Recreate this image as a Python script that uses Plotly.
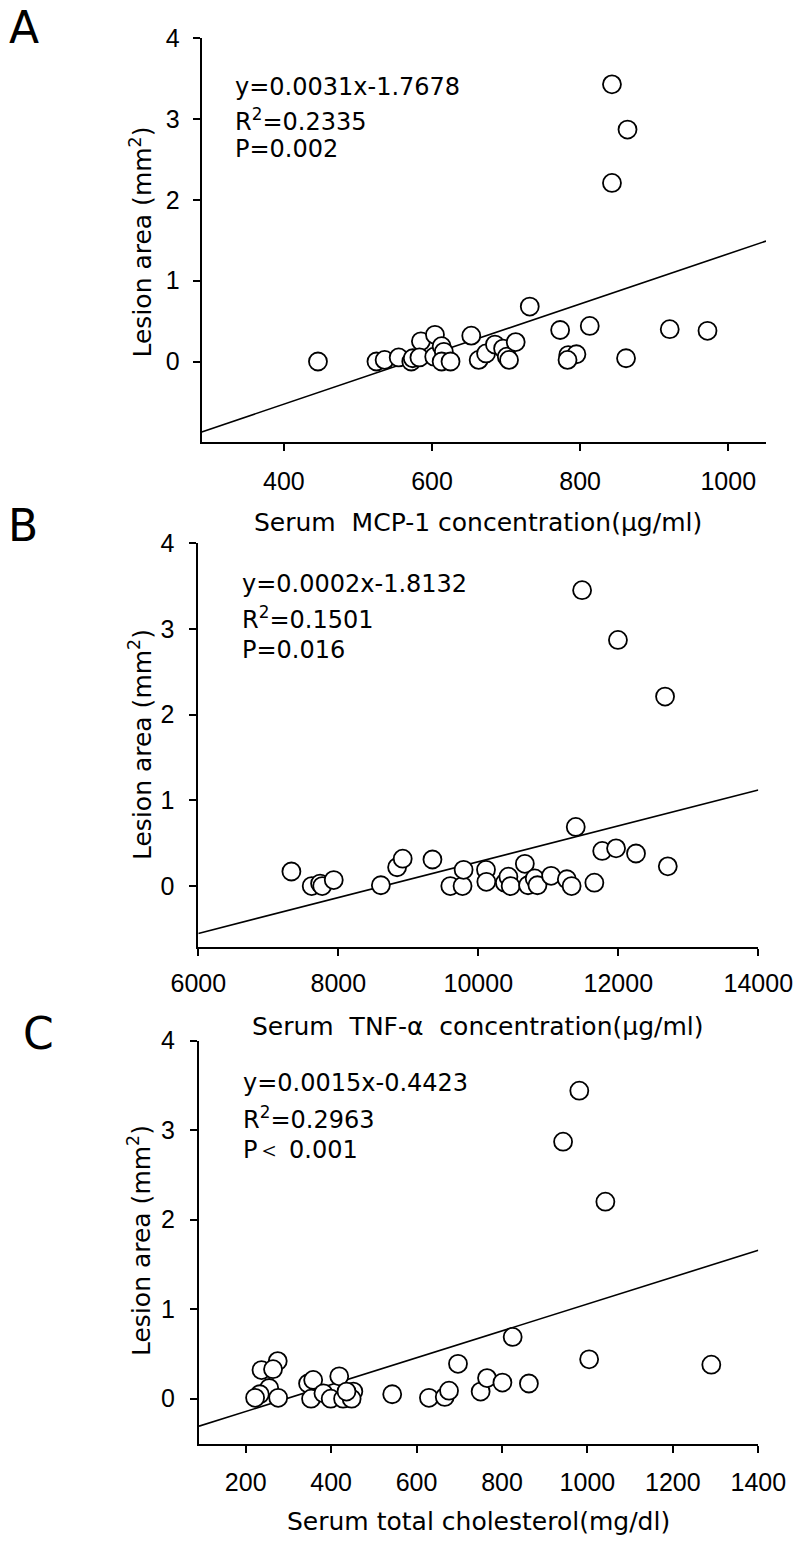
import plotly.graph_objects as go

W, H = 800, 1546
PAGE_OFFSET = 0  # body margin is removed by the post script below

# ---------------- data ----------------
# Panel A: serum MCP-1 vs lesion area
mcp1_conc = [446, 525, 536, 555, 572, 574, 585, 583, 604, 603, 613, 616, 613, 625,
             653, 663, 673, 685, 696, 701, 704, 713, 732, 773, 813, 784, 795, 783,
             862, 921, 972, 843, 864, 843]
mcp1_lesion = [0.00, 0.00, 0.02, 0.05, 0.00, 0.04, 0.25, 0.05, 0.33, 0.06, 0.19, 0.12, 0.00, 0.00,
               0.32, 0.02, 0.10, 0.21, 0.16, 0.06, 0.02, 0.24, 0.68, 0.39, 0.44, 0.08, 0.09, 0.02,
               0.04, 0.40, 0.38, 3.43, 2.87, 2.21]

# Panel B: serum TNF-alpha vs lesion area
tnf_conc = [7330, 7620, 7740, 7770, 7935, 8608, 8840, 8920, 9345, 9600, 9775, 9790,
            10110, 10115, 10380, 10430, 10462, 10665, 10711, 10806, 10845, 11040,
            11265, 11333, 11392, 11658, 11770, 11968, 12253, 12707, 11483, 11995, 12668]
tnf_lesion = [0.17, 0.00, 0.03, 0.00, 0.07, 0.01, 0.22, 0.32, 0.31, 0.00, 0.00, 0.19,
              0.19, 0.05, 0.04, 0.11, 0.00, 0.26, 0.01, 0.09, 0.01, 0.12,
              0.08, 0.00, 0.69, 0.04, 0.41, 0.44, 0.38, 0.23, 3.45, 2.87, 2.21]

# Panel C: serum total cholesterol vs lesion area
chol_conc = [275, 237, 264, 255, 233, 222, 276, 346, 358, 353, 419, 382, 399, 428,
             452, 448, 436, 543, 629, 666, 676, 697, 750, 765, 801, 863, 825, 1004,
             1290, 981, 943, 1042]
chol_lesion = [0.42, 0.32, 0.33, 0.12, 0.05, 0.01, 0.01, 0.17, 0.21, 0.00, 0.25, 0.06, 0.00, 0.00,
               0.08, 0.00, 0.08, 0.05, 0.01, 0.02, 0.09, 0.39, 0.08, 0.23, 0.18, 0.17, 0.69, 0.44,
               0.38, 3.44, 2.87, 2.20]

fit_slopes = [0.0031, 0.000209, 0.0015]
fit_intercepts = [-1.7678, -1.806, -0.4423]

x_ranges = [[289, 1051], [6000, 14000], [90.7, 1400]]
y_ranges = [[-1.0, 4.0], [-0.71, 4.0], [-0.5, 4.0]]
x_tickvals = [[400, 600, 800, 1000],
              [6000, 8000, 10000, 12000, 14000],
              [200, 400, 600, 800, 1000, 1200, 1400]]
y_tickvals = [0, 1, 2, 3, 4]

panel_letters = ["A", "B", "C"]
x_titles = ["Serum  MCP-1 concentration(µg/ml)",
            "Serum  TNF-α  concentration(µg/ml)",
            "Serum total cholesterol(mg/dl)"]
y_title = "Lesion area (mm<sup>2</sup>)"
eq_lines = [["y=0.0031x-1.7678", "R<sup>2</sup>=0.2335", "P=0.002"],
            ["y=0.0002x-1.8132", "R<sup>2</sup>=0.1501", "P=0.016"],
            ["y=0.0015x-0.4423", "R<sup>2</sup>=0.2963", "P＜ 0.001"]]

series = [(mcp1_conc, mcp1_lesion), (tnf_conc, tnf_lesion), (chol_conc, chol_lesion)]

# ---------------- layout geometry (pixels, in screenshot coordinates) ----------------
plot_px = [  # left, right, top, bottom
    (201.7, 766.0, 38.3, 442.3),
    (198.3, 758.3, 543.0, 947.0),
    (199.0, 758.3, 1040.5, 1443.5),
]
x_standoff = [9, 6, 8]
y_standoff = [8, 10, 10]
eq_pos = [(233.3, [85.0, 118.3, 147.5]),
          (240.0, [582.5, 616.0, 648.3]),
          (240.8, [1080.8, 1115.5, 1147.5])]
xtitle_pos = [(478, 520.8), (478, 1024.0), (478, 1519.0)]
ytitle_pos = [(141, 242.5), (140, 745.0), (139, 1241.0)]
letter_pos = [(24, 24.5), (23, 522.5), (38, 1030.0)]


def px2x(px):
    return (px - PAGE_OFFSET) / W


def px2y(py):
    return 1 - (py - PAGE_OFFSET) / H


TXT_FONT = "DejaVu Sans, Liberation Sans, Arial, sans-serif"
TICK_FONT = "Liberation Sans, Arial, sans-serif"

fig = go.Figure()
layout = dict(width=W, height=H,
              margin=dict(l=0, r=0, t=0, b=0, pad=0, autoexpand=False),
              paper_bgcolor="white", plot_bgcolor="white", showlegend=False)
annotations = []

for i in range(3):
    xs, ys = series[i]
    sfx = "" if i == 0 else str(i + 1)
    xa, ya = "x" + sfx, "y" + sfx
    l, r, t, b = plot_px[i]
    x0, x1 = x_ranges[i]
    # regression line across the axis range
    fig.add_trace(go.Scatter(
        x=[x0, x1],
        y=[fit_slopes[i] * x0 + fit_intercepts[i], fit_slopes[i] * x1 + fit_intercepts[i]],
        mode="lines", line=dict(color="black", width=1.6),
        xaxis=xa, yaxis=ya, hoverinfo="skip", cliponaxis=False))
    fig.add_trace(go.Scatter(
        x=xs, y=ys, mode="markers",
        marker=dict(symbol="circle", size=18, color="white",
                    line=dict(color="black", width=1.8)),
        xaxis=xa, yaxis=ya, cliponaxis=False))

    layout["xaxis" + sfx] = dict(
        domain=[px2x(l), px2x(r)], range=x_ranges[i], anchor=ya,
        showline=True, linecolor="black", linewidth=2, mirror=False,
        showgrid=False, zeroline=False, automargin=False,
        tickmode="array", tickvals=x_tickvals[i], tickformat="d", ticks="outside",
        ticklen=7, tickwidth=2, tickcolor="black",
        tickfont=dict(family=TICK_FONT, size=25, color="black"),
        ticklabelstandoff=x_standoff[i])
    layout["yaxis" + sfx] = dict(
        domain=[px2y(b), px2y(t)], range=y_ranges[i], anchor=xa,
        showline=True, linecolor="black", linewidth=2, mirror=False,
        showgrid=False, zeroline=False, automargin=False,
        tickmode="array", tickvals=y_tickvals, tickformat="d", ticks="outside",
        ticklen=7, tickwidth=2, tickcolor="black",
        tickfont=dict(family=TICK_FONT, size=25, color="black"),
        ticklabelstandoff=y_standoff[i])

    # equation text
    ex, eys = eq_pos[i]
    for line, ey in zip(eq_lines[i], eys):
        annotations.append(dict(
            text=line, xref="paper", yref="paper", x=px2x(ex), y=px2y(ey + 2),
            xanchor="left", yanchor="middle", showarrow=False,
            font=dict(family=TXT_FONT, size=24, color="black")))
    # x axis title
    tx, ty = xtitle_pos[i]
    annotations.append(dict(
        text=x_titles[i], xref="paper", yref="paper", x=px2x(tx), y=px2y(ty + 2),
        xanchor="center", yanchor="middle", showarrow=False,
        font=dict(family=TXT_FONT, size=25, color="black")))
    # y axis title
    yx, yy = ytitle_pos[i]
    annotations.append(dict(
        text=y_title, xref="paper", yref="paper", x=px2x(yx), y=px2y(yy),
        xanchor="center", yanchor="middle", showarrow=False, textangle=-90,
        font=dict(family=TXT_FONT, size=25, color="black")))
    # panel letter
    lx, ly = letter_pos[i]
    annotations.append(dict(
        text=panel_letters[i], xref="paper", yref="paper", x=px2x(lx), y=px2y(ly + 3),
        xanchor="center", yanchor="middle", showarrow=False, borderpad=0,
        font=dict(family="DejaVu Sans, sans-serif", size=44, color="black")))

layout["annotations"] = annotations
fig.update_layout(**layout)
fig.write_html("out.html", config={"displayModeBar": False},
               post_script="document.body.style.margin='0';")
